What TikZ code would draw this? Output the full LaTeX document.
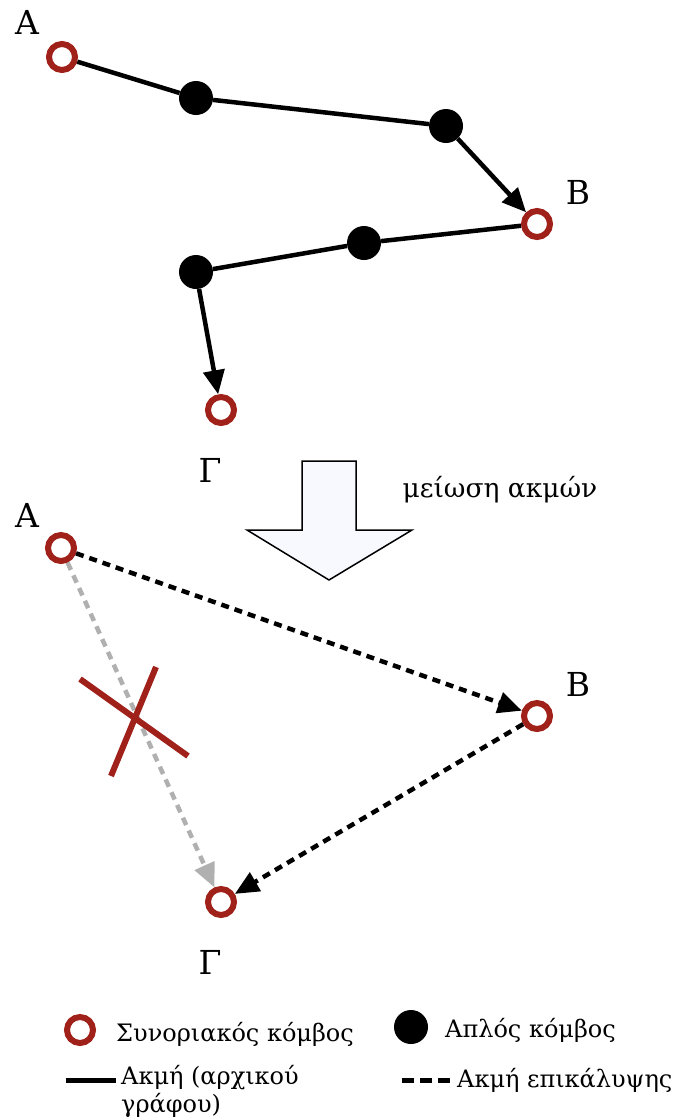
\documentclass[tikz,border=0pt]{standalone}
\usepackage{fontspec}
\setmainfont{DejaVu Serif}
\usetikzlibrary{arrows.meta}
\definecolor{borderred}{HTML}{A0201A}
\definecolor{arrowfill}{HTML}{F8F9FF}
\definecolor{lightgray}{HTML}{B0B0B0}
\tikzset{
  border/.style={circle, draw=borderred, line width=6pt, fill=white, minimum size=26pt, inner sep=0pt},
  simple/.style={circle, fill=black, minimum size=34pt, inner sep=0pt},
  edge/.style={line width=4.5pt},
  cover/.style={line width=4.5pt, dash pattern=on 8pt off 6pt},
  tip/.style={-{Triangle[length=24pt,width=21pt]}},
  lbl/.style={font=\fontsize{33}{38}\selectfont},
  legend/.style={font=\fontsize{24}{28}\selectfont, anchor=west, align=left, inner sep=0pt},
}
\begin{document}
\begin{tikzpicture}[x=1pt, y=-1pt]
\useasboundingbox (0,0) rectangle (683,1120);
% original graph
\node[border] (A1) at (62,57) {};
\node[simple] (u1) at (196,98) {};
\node[simple] (u2) at (446,126) {};
\node[border] (B1) at (537,224) {};
\node[simple] (u3) at (364,243) {};
\node[simple] (u4) at (196,272) {};
\node[border] (G1) at (221,410) {};
\node[lbl] (lA1) at (27,22) {A};
\node[lbl] (lB1) at (578,192) {B};
\node[lbl] (lG1) at (210,470) {Γ};
\draw[edge] (A1) -- (u1);
\draw[edge] (u1) -- (u2);
\draw[edge, tip] (u2) -- (B1);
\draw[edge] (B1) -- (u3);
\draw[edge] (u3) -- (u4);
\draw[edge, tip] (u4) -- (G1);
% reduction arrow
\draw[fill=arrowfill, line width=1.5pt] (302,461) -- (356,461) -- (356,530) -- (412,530)
  -- (329,580) -- (247,530) -- (302,530) -- cycle;
\node[font=\fontsize{26.5}{30}\selectfont] (red) at (500,490) {μείωση ακμών};
% covering graph
\node[border] (A2) at (61,548) {};
\node[border] (B2) at (537,716) {};
\node[border] (G2) at (221,902) {};
\node[lbl] (lA2) at (27,515) {A};
\node[lbl] (lB2) at (578,684) {B};
\node[lbl] (lG2) at (210,962) {Γ};
\draw[cover, tip, lightgray] (A2) -- (G2);
\draw[cover, tip] (A2) -- (B2);
\draw[cover, tip] (B2) -- (G2);
\draw[borderred, line width=6pt] (80,679) -- (188,756);
\draw[borderred, line width=6pt] (111,776) -- (156,667);
% legend
\node[border] (k1) at (80,1030) {};
\node[legend] (t1) at (116,1034) {Συνοριακός κόμβος};
\node[simple] (k2) at (411,1027) {};
\node[legend] (t2) at (445,1030) {Απλός κόμβος};
\coordinate (e1) at (66,1080);
\coordinate (e2) at (116,1080);
\draw[edge, line width=5pt] (e1) -- (e2);
\node[legend, anchor=north west] (t3) at (121,1065) {Ακμή (αρχικού\\γράφου)};
\coordinate (e3) at (402,1080);
\coordinate (e4) at (450,1080);
\draw[line width=5pt, dash pattern=on 12pt off 6pt] (e3) -- (e4);
\node[legend] (t4) at (457,1080) {Ακμή επικάλυψης};
\end{tikzpicture}
\end{document}
